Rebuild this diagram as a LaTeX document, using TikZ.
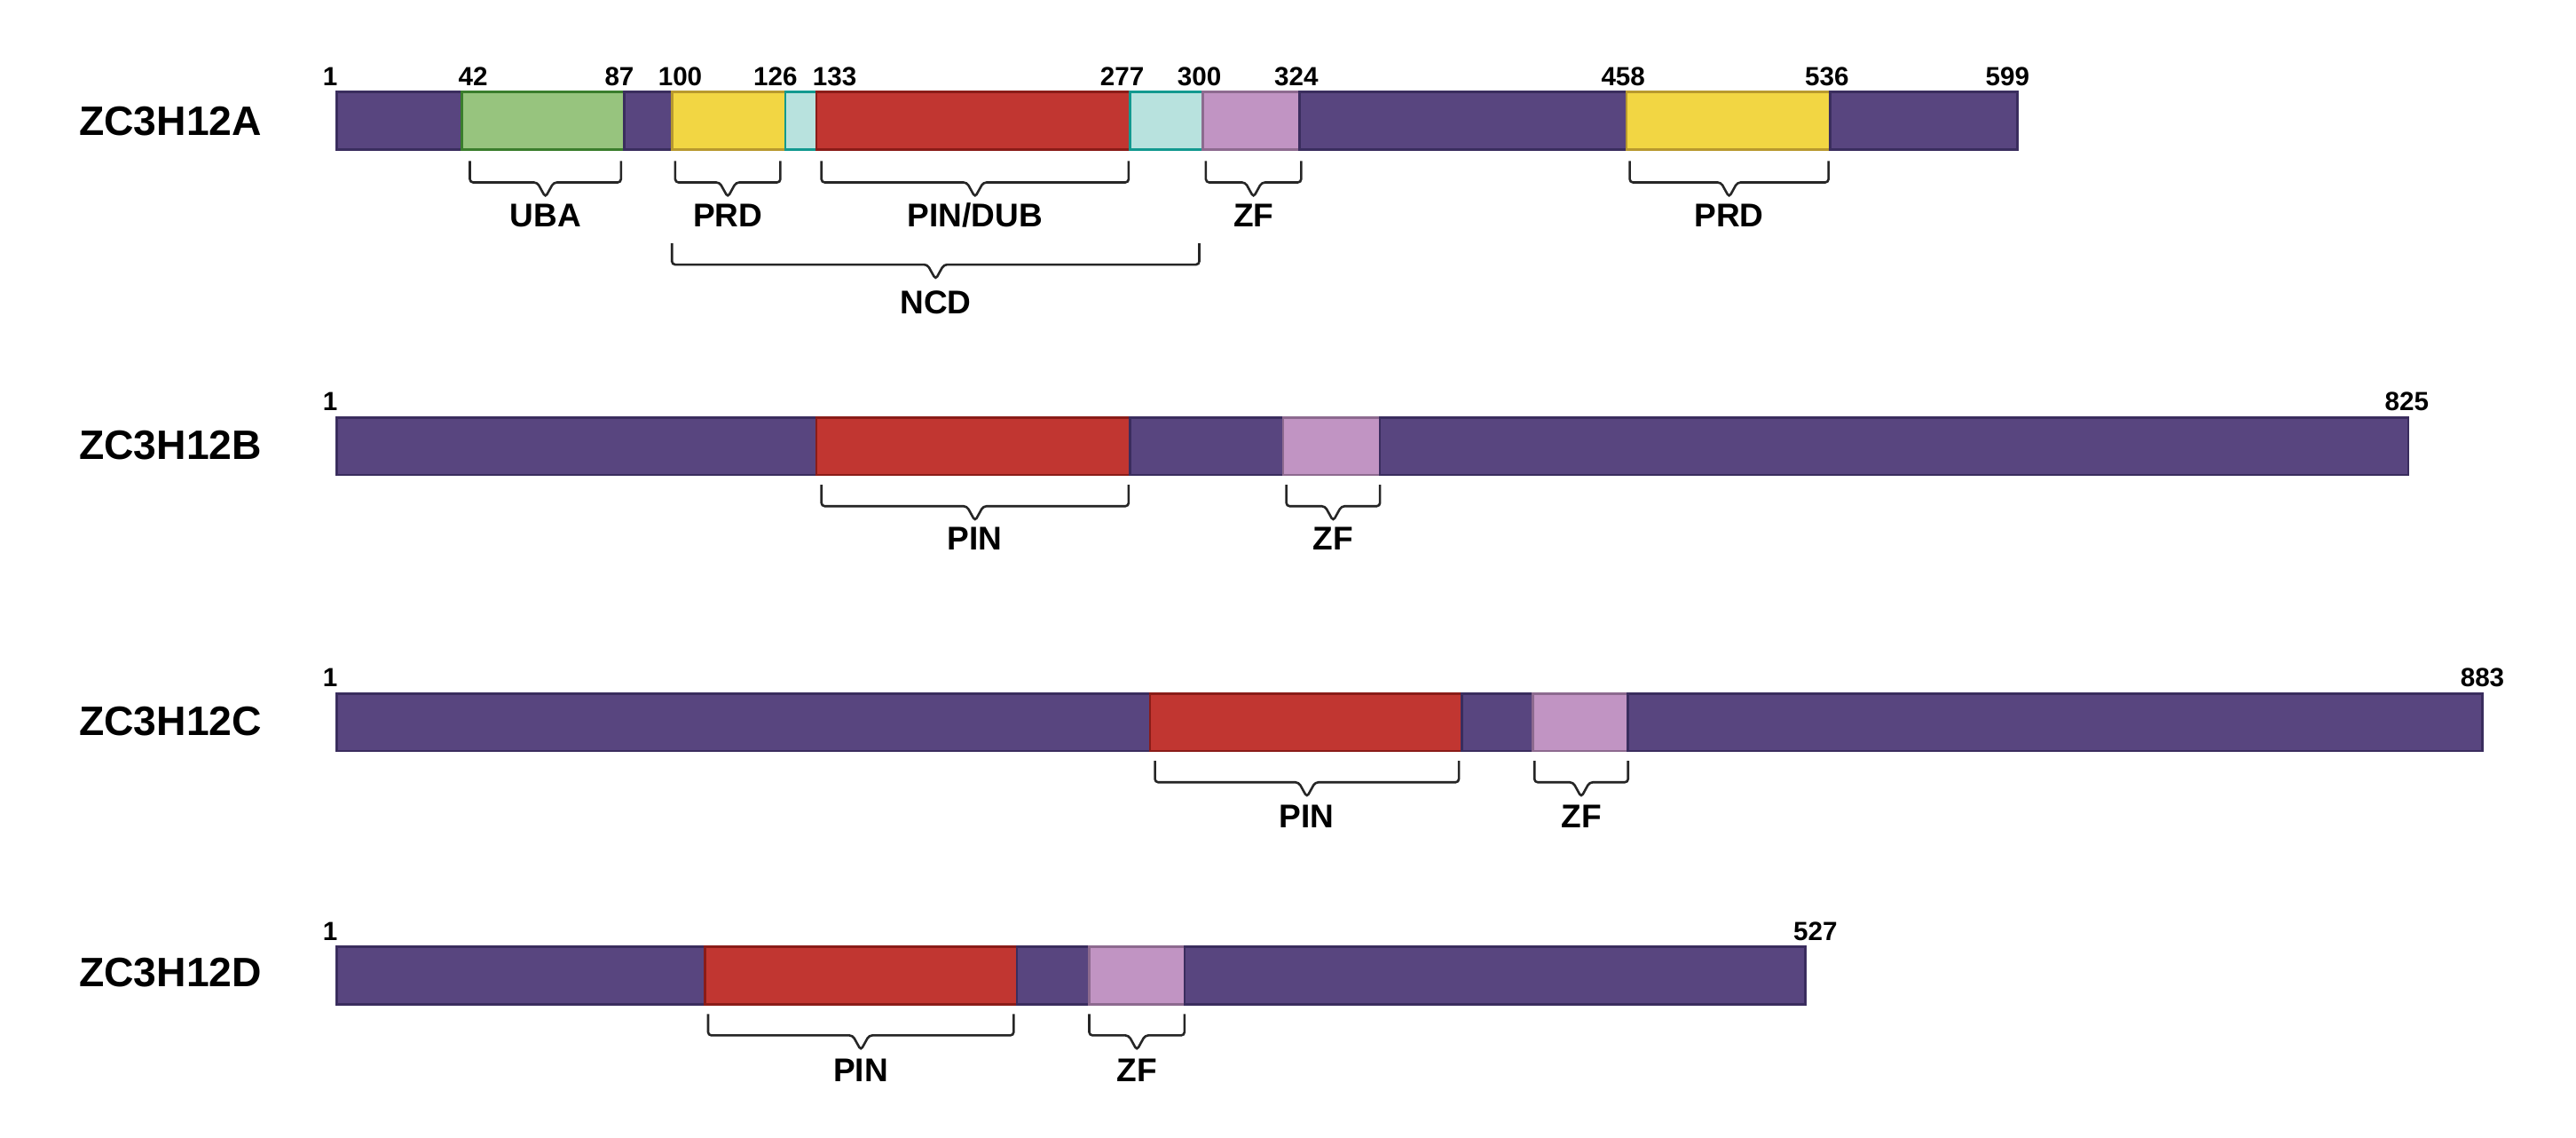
\documentclass[tikz,border=0pt]{standalone}
\usepackage{fontspec}
\setmainfont{Liberation Sans}
\begin{document}
\begin{tikzpicture}[x=1pt,y=-1pt,
  seg/.style={line width=1.4pt},
  brc/.style={line width=1.4pt,draw=black!85,rounded corners=2pt},
  num/.style={font=\bfseries\fontsize{16}{16}\selectfont,anchor=base},
  lab/.style={font=\bfseries\fontsize{20}{20}\selectfont},
  pname/.style={font=\bfseries\fontsize{25}{25}\selectfont,anchor=west,inner sep=0pt}]
\definecolor{pu}{HTML}{58457F}\definecolor{puB}{HTML}{3A2D5E}
\definecolor{gr}{HTML}{97C47E}\definecolor{grB}{HTML}{3A7D2C}
\definecolor{ye}{HTML}{F2D643}\definecolor{yeB}{HTML}{B8992E}
\definecolor{cy}{HTML}{B8E2DE}\definecolor{cyB}{HTML}{12998F}
\definecolor{re}{HTML}{C13631}\definecolor{reB}{HTML}{8A1C18}
\definecolor{pk}{HTML}{C194C3}\definecolor{pkB}{HTML}{8D6A8F}
\useasboundingbox[fill=white] (0,0) rectangle (1568,692);
\newcommand\sg[5]{\draw[seg,fill=#4,draw=#5] (#1,#3) rectangle (#2,#3+35);}
\newcommand\br[5]{\draw[brc] (#1,#3) -- (#1,#3+13) -- ({(#1+#2)/2-5},#3+13) -- ({(#1+#2)/2},#3+22) -- ({(#1+#2)/2+5},#3+13) -- (#2,#3+13) -- (#2,#3);
  \node[lab] at ({(#1+#2)/2},#4) {#5};}
% Row A
\node[pname] (nA) at (48,74) {ZC3H12A};
\sg{205}{281}{56}{pu}{puB}\sg{281}{380}{56}{gr}{grB}\sg{380}{409}{56}{pu}{puB}
\sg{409}{478}{56}{ye}{yeB}\sg{478}{497}{56}{cy}{cyB}\sg{497}{688}{56}{re}{reB}
\sg{688}{732}{56}{cy}{cyB}\sg{732}{791}{56}{pk}{pkB}\sg{791}{990}{56}{pu}{puB}
\sg{990}{1114}{56}{ye}{yeB}\sg{1114}{1228}{56}{pu}{puB}
\foreach \x/\t in {201/1,288/42,377/87,414/100,472/126,508/133,683/277,730/300,789/324,988/458,1112/536,1222/599}
  \node[num] at (\x,52) {\t};
\br{286}{378}{98}{131}{UBA}
\br{411}{475}{98}{131}{PRD}
\br{500}{687}{98}{131}{PIN/DUB}
\br{734}{792}{98}{131}{ZF}
\br{992}{1113}{98}{131}{PRD}
\br{409}{730}{148}{184}{NCD}
% Row B
\node[pname] (nB) at (48,271) {ZC3H12B};
\sg{205}{497}{254}{pu}{puB}\sg{497}{688}{254}{re}{reB}\sg{688}{781}{254}{pu}{puB}
\sg{781}{840}{254}{pk}{pkB}\sg{840}{1466}{254}{pu}{puB}
\node[num] at (201,250) {1};\node[num] at (1465,250) {825};
\br{500}{687}{295}{328}{PIN}
\br{783}{840}{295}{328}{ZF}
% Row C
\node[pname] (nC) at (48,439) {ZC3H12C};
\sg{205}{700}{422}{pu}{puB}\sg{700}{890}{422}{re}{reB}\sg{890}{933}{422}{pu}{puB}
\sg{933}{991}{422}{pk}{pkB}\sg{991}{1511}{422}{pu}{puB}
\node[num] at (201,418) {1};\node[num] at (1511,418) {883};
\br{703}{888}{463}{497}{PIN}
\br{934}{991}{463}{497}{ZF}
% Row D
\node[pname] (nD) at (48,592) {ZC3H12D};
\sg{205}{429}{576}{pu}{puB}\sg{429}{619}{576}{re}{reB}\sg{619}{663}{576}{pu}{puB}
\sg{663}{721}{576}{pk}{pkB}\sg{721}{1099}{576}{pu}{puB}
\node[num] at (201,572) {1};\node[num] at (1105,572) {527};
\br{431}{617}{617}{651}{PIN}
\br{663}{721}{617}{651}{ZF}
\end{tikzpicture}
\end{document}
